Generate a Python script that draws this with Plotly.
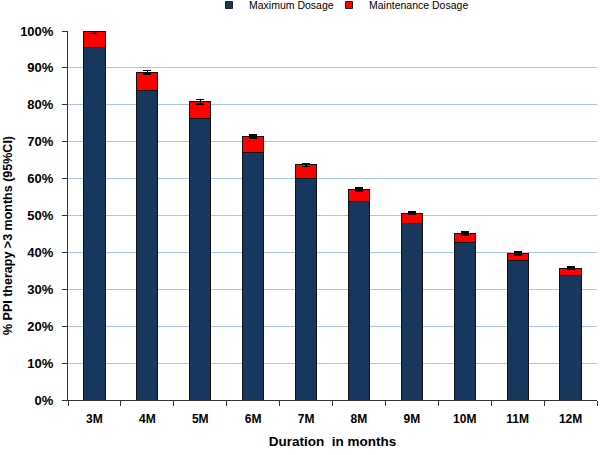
import plotly.graph_objects as go

categories = ["3M", "4M", "5M", "6M", "7M", "8M", "9M", "10M", "11M", "12M"]
maximum_dosage = [95.5, 84.0, 76.4, 67.2, 60.1, 53.8, 47.9, 42.8, 37.7, 33.8]
total = [99.8, 88.8, 80.8, 71.4, 63.7, 57.1, 50.6, 45.1, 39.7, 35.7]
maintenance_dosage = [t - m for t, m in zip(total, maximum_dosage)]
ci_half = [0.5, 0.5, 0.6, 0.4, 0.4, 0.4, 0.3, 0.4, 0.4, 0.4]
yticks = [0, 10, 20, 30, 40, 50, 60, 70, 80, 90, 100]
series_names = ["Maximum Dosage", "Maintenance Dosage"]
series_colors = ["#17375E", "#FF0000"]

fig = go.Figure()
fig.add_trace(go.Bar(
    x=categories, y=maximum_dosage, name=series_names[0], showlegend=False,
    marker=dict(color=series_colors[0], line=dict(color="#111111", width=1)),
))
fig.add_trace(go.Bar(
    x=categories, y=maintenance_dosage, name=series_names[1], showlegend=False,
    marker=dict(color=series_colors[1], line=dict(color="#111111", width=1)),
    error_y=dict(type="data", array=ci_half, color="#000000", thickness=1.5, width=4),
))
# legend entries with small square swatches, one legend box each
for name, color, lg in zip(series_names, series_colors, ["legend", "legend2"]):
    fig.add_trace(go.Scatter(
        x=[None], y=[None], mode="markers", name=name, legend=lg,
        marker=dict(symbol="square", size=7, color=color, line=dict(color="#222", width=1)),
    ))

legend_common = dict(orientation="h", xref="container", xanchor="left",
                     y=(455 - 5) / 455, yref="container", yanchor="middle",
                     font=dict(size=10.5), itemwidth=30, bgcolor="rgba(0,0,0,0)")

fig.update_layout(
    barmode="stack",
    bargap=0.6,
    width=600, height=455,
    margin=dict(l=68, r=3, t=31, b=55, autoexpand=False),
    paper_bgcolor="white", plot_bgcolor="white",
    font=dict(family="Liberation Sans, Arial", color="#000000"),
    showlegend=True,
    legend=dict(x=209 / 600, **legend_common),
    legend2=dict(x=329 / 600, **legend_common),
    xaxis=dict(
        title=dict(text="<b>Duration  in months</b>", font=dict(size=13.5), standoff=11),
        tickfont=dict(size=12), ticks="outside", ticklen=5, tickcolor="#333",
        ticklabelstandoff=8,
        tickson="boundaries", showline=True, linecolor="#333", linewidth=1,
        tickvals=categories, ticktext=["<b>%s</b>" % c for c in categories],
    ),
    yaxis=dict(
        range=[0, 100], tickvals=yticks,
        ticktext=["<b>%d%%</b>" % v for v in yticks],
        tickfont=dict(size=13), ticks="outside", ticklen=5, tickcolor="#333",
        ticklabelstandoff=6,
        showline=True, linecolor="#333", linewidth=1,
        showgrid=True, gridcolor="#AFC2EA", gridwidth=1, zeroline=False,
    ),
    annotations=[dict(
        text="<b>% PPI therapy >3 months (95%CI)</b>", textangle=-90,
        xref="paper", yref="paper", x=(8 - 68) / 529, y=(400 - 236) / 369,
        xanchor="center", yanchor="middle", showarrow=False,
        font=dict(size=12.5),
    )],
)

fig.write_html("out.html", config={"displayModeBar": False},
               post_script="document.body.style.margin='0';")
